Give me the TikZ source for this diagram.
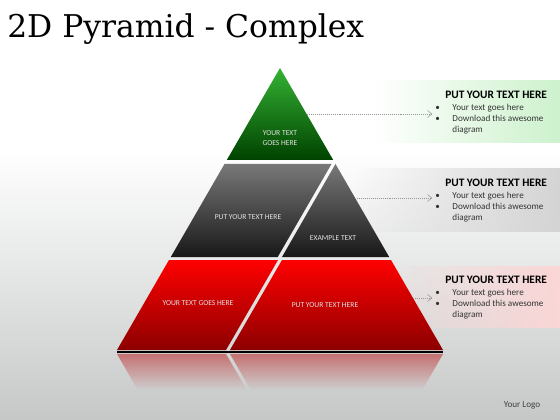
\documentclass[tikz,border=0pt]{standalone}
\usepackage{fontspec}
\setsansfont{Carlito}
\newfontfamily\titlefont{DejaVu Serif}
\usetikzlibrary{arrows.meta, positioning, calc, fadings}
\definecolor{greentop}{RGB}{52, 178, 52}
\definecolor{greenbot}{RGB}{0, 66, 0}
\definecolor{graytop}{RGB}{120, 120, 120}
\definecolor{graybot}{RGB}{24, 24, 24}
\definecolor{redtop}{RGB}{255, 0, 0}
\definecolor{redbot}{RGB}{140, 0, 0}
\definecolor{bggray}{RGB}{198, 200, 200}
\definecolor{reflred}{RGB}{190, 60, 60}
\definecolor{baseline}{RGB}{242, 218, 214}
\definecolor{labelgray}{RGB}{225, 225, 225}
\definecolor{boxgreen}{RGB}{205, 242, 205}
\definecolor{boxgray}{RGB}{212, 212, 212}
\definecolor{boxred}{RGB}{251, 214, 214}
\definecolor{linkgray}{RGB}{150, 150, 150}
\tikzfading[name=fadeleft, left color=transparent!100, right color=transparent!0]
\tikzfading[name=fadedown, top color=transparent!35, bottom color=transparent!100]

\begin{document}
\begin{tikzpicture}[
    x=0.025cm, y=-0.025cm,
    label/.style={text=labelgray, font=\sffamily\fontsize{5.4}{7}\selectfont, align=center, inner sep=0pt},
    heading/.style={font=\sffamily\bfseries\fontsize{8.1}{9.6}\selectfont, inner sep=0pt, anchor=west},
    bullets/.style={font=\sffamily\fontsize{6.5}{7.8}\selectfont, inner sep=0pt, anchor=north west, text=black!80},
    textbox/.style={path fading=fadeleft},
    link/.style={densely dotted, linkgray, -{Straight Barb[length=3pt, width=5pt]}, shorten >=2pt}
]
    % Background
    \useasboundingbox (0,0) rectangle (560,420);
    \fill[white] (0,0) rectangle (560,420);
    \shade[top color=white, bottom color=bggray] (0,150) rectangle (560,420);

    % Title
    \node[anchor=base west, inner sep=0pt, font=\titlefont\fontsize{22.3}{26}\selectfont] (title) at (7,38) {2D Pyramid - Complex};

    % Text boxes
    \fill[boxgreen, textbox] (375,80) rectangle (560,143);
    \fill[boxgray, textbox] (355,168) rectangle (560,232);
    \fill[boxred, textbox] (390,266) rectangle (560,328);

    % Tiers - top
    \shade[top color=greentop, bottom color=greenbot] (280,68) -- (333.2,160) -- (226.8,160) -- cycle;
    % Tiers - middle
    \shade[top color=graytop, bottom color=graybot] (224.5,164) -- (331.5,164) -- (277.7,257) -- (170.8,257) -- cycle;
    \shade[top color=graytop, bottom color=graybot] (335.5,164) -- (389.2,257) -- (282,257) -- cycle;
    % Tiers - bottom
    \shade[top color=redtop, bottom color=redbot] (169,260) -- (278,260) -- (226,350) -- (117,350) -- cycle;
    \shade[top color=redtop, bottom color=redbot] (282,260) -- (391,260) -- (443,350) -- (230,350) -- cycle;
    \fill[baseline] (117,350.5) rectangle (443,353);

    % Reflection
    \fill[reflred, path fading=fadedown] (117,354) -- (226,354) -- (246.8,390) -- (137.8,390) -- cycle;
    \fill[reflred, path fading=fadedown] (230,354) -- (443,354) -- (422.2,390) -- (250.8,390) -- cycle;

    % Labels on the tiers
    \node[label] (top) at (280,138) {YOUR TEXT\\GOES HERE};
    \node[label] (midleft) at (248,217) {PUT YOUR TEXT HERE};
    \node[label] (midright) at (333,238) {EXAMPLE TEXT};
    \node[label] (lowleft) at (198,303) {YOUR TEXT GOES HERE};
    \node[label] (lowright) at (325,305) {PUT YOUR TEXT HERE};

    % Headings and bullets
    \node[heading] (head1) at (445,95) {PUT YOUR TEXT HERE};
    \node[bullets] (list1) at (435,102.5) {\begin{tabular}{@{}l@{\hspace{9pt}}l@{}}\textbullet & Your text goes here\\ \textbullet & Download this awesome\\ & diagram\end{tabular}};
    \node[heading] (head2) at (445,183) {PUT YOUR TEXT HERE};
    \node[bullets] (list2) at (435,191) {\begin{tabular}{@{}l@{\hspace{9pt}}l@{}}\textbullet & Your text goes here\\ \textbullet & Download this awesome\\ & diagram\end{tabular}};
    \node[heading] (head3) at (445,280) {PUT YOUR TEXT HERE};
    \node[bullets] (list3) at (435,288) {\begin{tabular}{@{}l@{\hspace{9pt}}l@{}}\textbullet & Your text goes here\\ \textbullet & Download this awesome\\ & diagram\end{tabular}};

    % Arrows
    \coordinate (edge1) at (307,114);
    \coordinate (edge2) at (357,198);
    \coordinate (edge3) at (413,298);
    \draw[link] (edge1) -- (edge1 -| list1.west);
    \draw[link] (edge2) -- (edge2 -| list2.west);
    \draw[link] (edge3) -- (edge3 -| list3.west);

    % Logo
    \node[font=\sffamily\fontsize{6.5}{8}\selectfont, text=black!75, inner sep=0pt] (logo) at (522,405) {Your Logo};
\end{tikzpicture}
\end{document}
